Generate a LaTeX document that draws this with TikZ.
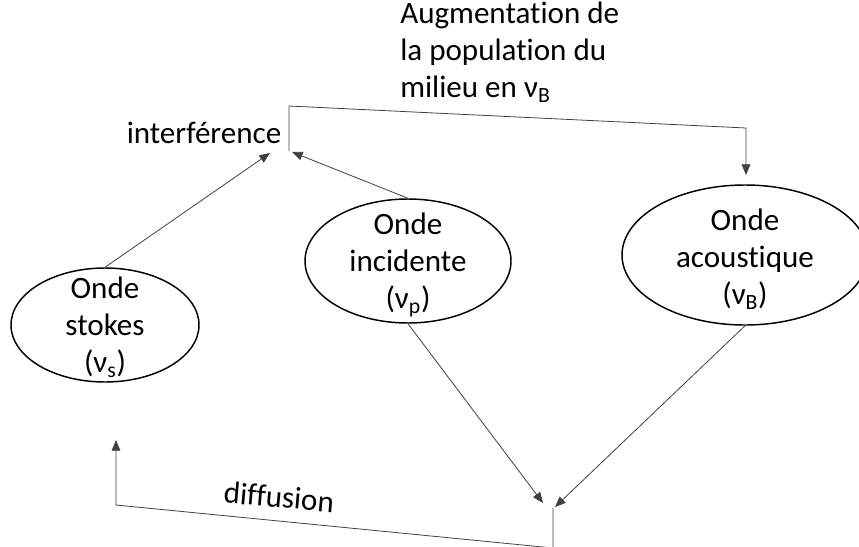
\documentclass[tikz,border=0pt]{standalone}
\usepackage{fontspec}
\setmainfont[RawFeature={-liga;-clig;-calt;-dlig}]{Carlito}
\usetikzlibrary{arrows.meta,positioning,shapes.geometric}
\tikzset{%
	wave/.style     = {draw, ellipse, line width=1.1pt, inner sep=0pt},
	wavetext/.style = {align=center, inner sep=0pt, font=\fontsize{23.3}{27.75}\selectfont},
	note/.style     = {inner sep=0pt, font=\fontsize{23.3}{27.75}\selectfont},
	arrow/.style    = {draw=black!75, line width=0.6pt, -{Triangle[length=8pt,width=6.5pt]}},
	link/.style     = {draw=black!75, line width=0.6pt},
}
\begin{document}
\begin{tikzpicture}[x=0.75pt,y=-0.75pt]
	\useasboundingbox (0,0) rectangle (859,546);
	% the three waves
	\node[wave, minimum width=141pt, minimum height=85.5pt] (stokes) at (105,325) {};
	\node[wave, minimum width=154.5pt, minimum height=93pt] (incident) at (408,261) {};
	\node[wave, minimum width=184.5pt, minimum height=105pt] (acoustic) at (745,255) {};
	\node[wavetext] (stokestxt) at (105,327) {Onde\\stokes\\(ν\textsubscript{s})};
	\node[wavetext] (incidenttxt) at (408,265) {Onde\\incidente\\(ν\textsubscript{p})};
	\node[wavetext] (acoustictxt) at (745,259) {Onde\\acoustique\\(ν\textsubscript{B})};
	% labels
	\node[note] (interf) at (204,133) {interférence};
	\node[note, anchor=west, align=left] (augm) at (400,52) {Augmentation de\\la population du\\milieu en ν\textsubscript{B}};
	\node[note, rotate=-5] (diff) at (279,497) {diffusion};
	% free ends
	\coordinate (in1) at (270,153);
	\coordinate (in2) at (292,152);
	\coordinate (b1) at (289,151);
	\coordinate (b2) at (289,106);
	\coordinate (b3) at (746,128);
	\coordinate (b4) at (746,175);
	\coordinate (out1) at (543,503);
	\coordinate (out2) at (555,507);
	\coordinate (d1) at (553,508);
	\coordinate (d2) at (553,548);
	\coordinate (d3) at (116,505);
	\coordinate (d4) at (116,440);
	% connectors
	\draw[arrow] (stokes.north) -- (in1);
	\draw[arrow] (incident.north) -- (in2);
	\draw[arrow] (b1) -- (b2) -- (b3) -- (b4);
	\draw[arrow] (incident.south) -- (out1);
	\draw[arrow] (acoustic.south) -- (out2);
	\draw[arrow] (d1) -- (d2) -- (d3) -- (d4);
\end{tikzpicture}
\end{document}
